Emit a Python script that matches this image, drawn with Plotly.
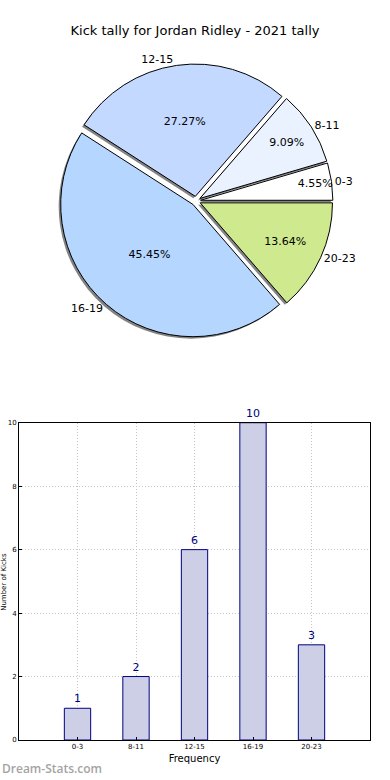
import plotly.graph_objects as go

# ---- data ----
categories = ["0-3", "8-11", "12-15", "16-19", "20-23"]
counts = [1, 2, 6, 10, 3]
pie_colors = ["#ffffff", "#eaf2ff", "#c4d9ff", "#b4d6ff", "#cfe98f"]
title_text = "Kick tally for Jordan Ridley - 2021 tally"
x_title = "Frequency"
y_title = "Number of Kicks"
watermark = "Dream-Stats.com"
y_ticks = [0, 2, 4, 6, 8, 10]

FONT = "DejaVu Sans"
W, H = 390, 780
ML, MR, MT, MB = 19, 20, 0, 40
PW, PH = W - ML - MR, H - MT - MB

# pie geometry (pixels)
pull_amt = 0.035
cx, cy, rad = 196, 198, 133
size = 2 * rad * (1 + pull_amt)
dom_x = [(cx - ML - size / 2) / PW, (cx - ML + size / 2) / PW]
dom_y = [(PH - cy - size / 2) / PH, (PH - cy + size / 2) / PH]
sdx, sdy = -2 / PW, -2 / PH
pulls = [pull_amt] * len(counts)
# first slice starts at 3 o'clock, going counter-clockwise (plotly's rotation marks end of slice 0)
rot = 90 - 360 * counts[0] / sum(counts)

fig = go.Figure()

# shadow
fig.add_trace(go.Pie(
    labels=categories, values=counts, sort=False, direction="counterclockwise",
    rotation=rot, pull=pulls,
    marker=dict(colors=["rgba(90,90,90,0.75)"] * len(counts), line=dict(width=0)),
    textinfo="none", hoverinfo="skip", showlegend=False,
    domain=dict(x=[dom_x[0] + sdx, dom_x[1] + sdx], y=[dom_y[0] + sdy, dom_y[1] + sdy]),
))
# main pie with percentages
fig.add_trace(go.Pie(
    labels=categories, values=counts, sort=False, direction="counterclockwise",
    rotation=rot, pull=pulls,
    marker=dict(colors=pie_colors, line=dict(color="#000000", width=1)),
    textinfo="percent", texttemplate="%{percent:.2%}", textposition="inside",
    insidetextorientation="horizontal",
    textfont=dict(family=FONT, size=11, color="#000000"),
    showlegend=False,
    domain=dict(x=dom_x, y=dom_y),
))
# outside labels overlay
fig.add_trace(go.Pie(
    labels=categories, values=counts, sort=False, direction="counterclockwise",
    rotation=rot, pull=pulls,
    marker=dict(colors=["rgba(0,0,0,0)"] * len(counts), line=dict(width=0)),
    textinfo="label", textposition="outside",
    textfont=dict(family=FONT, size=11, color="#000000"),
    hoverinfo="skip", showlegend=False,
    domain=dict(x=dom_x, y=dom_y),
))

# bar chart
fig.add_trace(go.Bar(
    x=categories, y=counts, width=0.45,
    marker=dict(color="#cdcfe6", line=dict(color="#000080", width=1)),
    text=[str(v) for v in counts], textposition="outside",
    textfont=dict(family=FONT, size=11, color="#000080"),
    cliponaxis=False, showlegend=False,
))

fig.update_layout(
    width=W, height=H,
    margin=dict(l=ML, r=MR, t=MT, b=MB),
    paper_bgcolor="white", plot_bgcolor="white",
    font=dict(family=FONT, size=8, color="#000000"),
    title=dict(text=title_text, x=0.5, xanchor="center", y=1 - 30 / H, yanchor="middle",
               font=dict(family=FONT, size=13, color="#000000")),
    uniformtext=dict(minsize=11, mode="show"),
    xaxis=dict(
        domain=[0, 1], range=[-1, 5], type="category",
        showline=True, linecolor="#000000", linewidth=1, mirror=True,
        ticks="inside", ticklen=3, tickcolor="#000000",
        showgrid=True, gridcolor="#c4c4c4", griddash="1px,2px", gridwidth=1,
        tickfont=dict(family=FONT, size=7), zeroline=False,
        title=dict(text=x_title, font=dict(family=FONT, size=10), standoff=4),
    ),
    yaxis=dict(
        domain=[0, (PH - 421) / PH], range=[0, 10], tickvals=y_ticks,
        showline=True, linecolor="#000000", linewidth=1, mirror=True,
        ticks="inside", ticklen=3, tickcolor="#000000",
        showgrid=True, gridcolor="#c4c4c4", griddash="1px,2px", gridwidth=1,
        tickfont=dict(family=FONT, size=7), zeroline=False,
    ),
    bargap=0.55,
)

fig.add_annotation(
    text=y_title, textangle=-90, xref="paper", yref="paper",
    x=(4 - ML) / PW, y=(PH - 581) / PH, xanchor="center", yanchor="middle",
    showarrow=False, font=dict(family=FONT, size=7, color="#000000"),
)
fig.add_annotation(
    text=watermark, xref="paper", yref="paper",
    x=-ML / PW, y=(PH - 769) / PH, xanchor="left", yanchor="middle",
    showarrow=False, font=dict(family="Open Sans", size=12, color="#a4a4a4", weight=600),
)

fig.write_html("out.html", config={"displayModeBar": False},
               post_script="document.body.style.margin='0px';")
